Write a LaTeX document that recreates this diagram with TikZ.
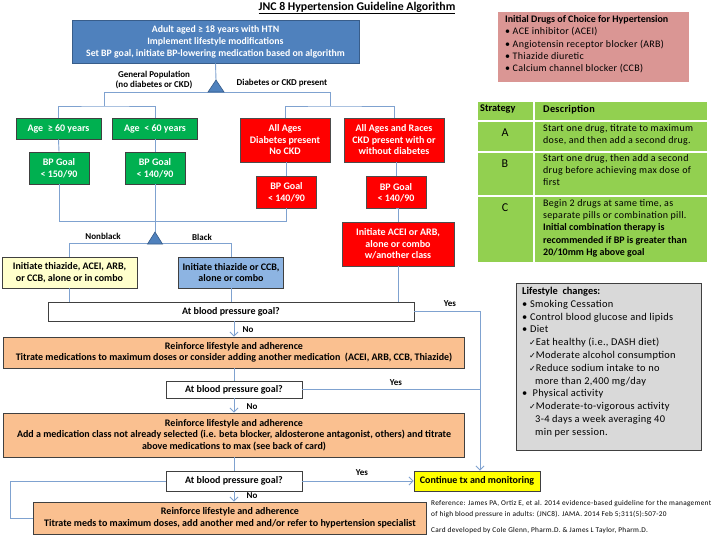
\documentclass[tikz,border=0pt]{standalone}
\usepackage{fontspec}
\setmainfont{Carlito}
\newfontfamily\djv{DejaVu Sans}
\newfontfamily\spc[LetterSpace=3]{Carlito}
\newfontfamily\spcb[LetterSpace=3]{Carlito}
\newfontfamily\spcc[LetterSpace=4]{Carlito}
\usetikzlibrary{arrows.meta}
\definecolor{topblue}{HTML}{4F81BD}
\definecolor{topborder}{HTML}{385D8A}
\definecolor{ggreen}{HTML}{00B050}
\definecolor{rred}{HTML}{FF0000}
\definecolor{lyellow}{HTML}{FFFFCC}
\definecolor{lblue}{HTML}{8DB4E2}
\definecolor{peach}{HTML}{FAC090}
\definecolor{yyellow}{HTML}{FFFF00}
\definecolor{pinkbox}{HTML}{DA9694}
\definecolor{tgreen}{HTML}{92D050}
\definecolor{lgray}{HTML}{D9D9D9}
\definecolor{conncol}{HTML}{7FA2D0}
\newcommand\chk{{\djv\fontsize{8}{8}\selectfont ✓}}
\begin{document}
\begin{tikzpicture}[x=1pt,y=-1pt,
  sz/.style 2 args={minimum width=#1,minimum height=#2},
  box/.style={draw=black!75,line width=0.8pt,inner sep=1pt,align=center,
    font=\fontsize{10}{11.5}\selectfont\bfseries},
  topbox/.style={box,fill=topblue,draw=topborder,text=white,font=\fontsize{9.8}{12}\selectfont\bfseries},
  gbox/.style={box,fill=ggreen,text=white},
  rbox/.style={box,fill=rred,text=white,draw=black!70},
  ybox/.style={box,fill=lyellow},
  bbox/.style={box,fill=lblue},
  wbox/.style={box,fill=white},
  obox/.style={box,fill=peach},
  cbox/.style={box,fill=yyellow},
  conn/.style={draw=conncol,line width=0.9pt},
  arr/.style={conn,-{Straight Barb[length=4pt,width=8pt]}},
  lbl/.style={font=\fontsize{9}{10.5}\selectfont\bfseries,align=center,inner sep=0pt},
  tri/.style={fill=topblue,draw=topborder,line width=0.6pt},
  cell/.style={fill=tgreen},
  rtxt/.style={font=\spc\fontsize{10}{12.3}\selectfont,align=left,inner sep=0pt,anchor=north west}
]
\useasboundingbox (0,0) rectangle (720,540);
\fill[white] (0,0) rectangle (720,540);

% title
\node[font=\fontsize{11.8}{13}\selectfont\bfseries] (title) at (357,8) {\underline{JNC 8 Hypertension Guideline Algorithm}};

% top box
\node[topbox,sz={287}{43}] (top) at (215.5,41.5) {Adult aged ≥ 18 years with HTN\\Implement lifestyle modifications\\Set BP goal, initiate BP-lowering medication based on algorithm};

% triangle 1
\coordinate (t1) at (216,80);
\coordinate (gL) at (104,92);
\coordinate (gR) at (330,92);
\coordinate (jL) at (104,106);
\coordinate (jR) at (330,106);
\draw[conn] (top.south) -- (t1);
\draw[conn] (jL) -- (gL) -- (gR) -- (jR);
\filldraw[tri] (208,92) -- (224,92) -- (t1) -- cycle;
\node[lbl] (genpop) at (154,80) {General Population\\(no diabetes or CKD)};
\node[lbl] (diab) at (282,83) {Diabetes or CKD present};

% green branch
\node[gbox,sz={85}{21}] (age1) at (58.5,128.5) {Age\ \ ≥ 60 years};
\node[gbox,sz={85}{21}] (age2) at (155,128.5) {Age\ \ < 60 years};
\node[gbox,sz={60}{32}] (bp1) at (59,168) {BP Goal\\< 150/90};
\node[gbox,sz={60}{32}] (bp2) at (155,168) {BP Goal\\< 140/90};

% red branch
\node[rbox,sz={90}{44}] (red1) at (285,140) {All Ages\\Diabetes present\\No CKD};
\node[rbox,sz={100}{44}] (red2) at (394,140) {All Ages and Races\\CKD present with or\\without diabetes};
\node[rbox,sz={60}{32}] (rbp1) at (286.5,192) {BP Goal\\< 140/90};
\node[rbox,sz={60}{32}] (rbp2) at (396,192.5) {BP Goal\\< 140/90};
\node[rbox,sz={112}{44}] (rinit) at (398,244) {Initiate ACEI or ARB,\\alone or combo\\w/another class};

\draw[conn] (age1.north) |- (jL) -| (age2.north);
\draw[conn] (red1.north) |- (jR) -| (red2.north);
\draw[conn] (age1.south) -- (bp1.north);
\draw[conn] (age2.south) -- (bp2.north);
\draw[conn] (red1.south -| rbp1.north) -- (rbp1.north);
\draw[conn] (red2.south -| rbp2.north) -- (rbp2.north);
\draw[conn] (rbp2.south) -- (rbp2.south -| rinit.north) -- (rinit.north);

% second junction
\coordinate (hL) at (59,221);
\coordinate (hR) at (286.5,221);
\coordinate (t2) at (155,232);
\coordinate (t2b) at (155,243.5);
\draw[conn] (bp1.south) -- (hL) -- (hR) -- (rbp1.south);
\draw[conn] (bp2.south) -- (t2);

\node[ybox,sz={135}{31}] (yel) at (69.5,272.5) {Initiate thiazide, ACEI, ARB,\\or CCB, alone or in combo};
\node[bbox,sz={105}{31}] (blu) at (231,272.5) {Initiate thiazide or CCB,\\alone or combo};
\draw[conn] (yel.north) |- (t2b) -| (blu.north);
\filldraw[tri] (147.5,244) -- (162.5,244) -- (t2) -- cycle;
\node[lbl] (nonblack) at (103,236) {Nonblack};
\node[lbl] (black) at (202,237) {Black};

% goal chain
\node[wbox,sz={366}{19}] (goal1) at (231,311.5) {At blood pressure goal?};
\draw[conn] (yel.south) -- (yel.south |- goal1.north);
\draw[conn] (blu.south) -- (blu.south |- goal1.north);
\draw[conn] (rinit.south) -- (rinit.south |- goal1.north);

\node[obox,sz={461}{31}] (or1) at (234,352.5) {Reinforce lifestyle and adherence\\Titrate medications to maximum doses or consider adding another medication\ \ (ACEI, ARB, CCB, Thiazide)};
\node[wbox,sz={136}{17}] (goal2) at (234,389.5) {At blood pressure goal?};
\node[obox,sz={461}{44}] (or2) at (234,435) {Reinforce lifestyle and adherence\\Add a medication class not already selected (i.e. beta blocker, aldosterone antagonist, others) and titrate\\above medications to max (see back of card)};
\node[wbox,sz={136}{20}] (goal3) at (234,481) {At blood pressure goal?};
\node[obox,sz={393}{32}] (or3) at (230,518) {Reinforce lifestyle and adherence\\Titrate meds to maximum doses, add another med and/or refer to hypertension specialist};
\node[cbox,sz={126}{20}] (cont) at (477,481) {Continue tx and monitoring};

\draw[arr] (goal1.south -| or1.north) -- (or1.north);
\draw[conn] (or1.south) -- (goal2.north);
\draw[arr] (goal2.south) -- (or2.north);
\draw[conn] (or2.south) -- (goal3.north);
\draw[arr] (goal3.south) -- (goal3.south |- or3.north);
\node[lbl] (no1) at (248,330) {No};
\node[lbl] (no2) at (252,407) {No};
\node[lbl] (no3) at (252,496) {No};

\coordinate (yr) at (480,311.5);
\draw[arr] (goal1.east) -- (yr) -- (yr |- cont.north);
\draw[conn] (goal2.east) -- (goal2.east -| yr);
\draw[arr] (goal3.east) -- (cont.west);
\node[lbl] (yes1) at (450,304) {Yes};
\node[lbl] (yes2) at (396,383) {Yes};
\node[lbl] (yes3) at (362,473) {Yes};

\coordinate (lp) at (10,0);
\draw[conn] (goal3.west) -- (goal3.west -| lp) |- (or3.west);

% pink box
\node[fill=pinkbox,sz={191}{70},anchor=north west,inner sep=0pt] (pink) at (498,12) {};
\node[rtxt,font=\spc\fontsize{10}{12.4}\selectfont] (pinktxt) at (505,15) {{\normalfont\bfseries Initial Drugs of Choice for Hypertension}\\
\textbullet\ ACE inhibitor (ACEI)\\
\textbullet\ Angiotensin receptor blocker (ARB)\\
\textbullet\ Thiazide diuretic\\
\textbullet\ Calcium channel blocker (CCB)};

% strategy table
\fill[cell] (478,102) rectangle (533,120);
\fill[cell] (535,102) rectangle (707,120);
\fill[cell] (478,122) rectangle (533,151);
\fill[cell] (535,122) rectangle (707,151);
\fill[cell] (478,153) rectangle (533,195);
\fill[cell] (535,153) rectangle (707,195);
\fill[cell] (478,197) rectangle (533,262);
\fill[cell] (535,197) rectangle (707,262);
\node[rtxt,font=\fontsize{10.3}{11}\selectfont\bfseries] (hs) at (480,105) {Strategy};
\node[rtxt,font=\spc\fontsize{10.3}{11}\selectfont\bfseries] (hd) at (543,105) {Description};
\node[font=\fontsize{12}{13}\selectfont,anchor=north] (sA) at (505,125) {A};
\node[font=\fontsize{12}{13}\selectfont,anchor=north] (sB) at (505,156) {B};
\node[font=\fontsize{12}{13}\selectfont,anchor=north] (sC) at (505,200) {C};
\node[rtxt] (dA) at (543,124) {Start one drug, titrate to maximum\\dose, and then add a second drug.};
\node[rtxt] (dB) at (543,154) {Start one drug, then add a second\\drug before achieving max dose of\\first};
\node[rtxt] (dC) at (543,199) {Begin 2 drugs at same time, as\\separate pills or combination pill.\\{\normalfont\bfseries Initial combination therapy is}\\{\normalfont\bfseries recommended if BP is greater than}\\{\normalfont\bfseries 20/10mm Hg above goal}};

% lifestyle box
\node[draw=black!75,line width=0.8pt,fill=lgray,sz={185}{167},anchor=north west] (life) at (516,283) {};
\node[rtxt,font=\spcb\fontsize{10.4}{12.8}\selectfont] (lifetxt) at (522,287) {{\normalfont\bfseries Lifestyle\ \ changes:}\\
\textbullet\ Smoking Cessation\\
\textbullet\ Control blood glucose and lipids\\
\textbullet\ Diet\\
\hspace*{7pt}\chk Eat healthy (i.e., DASH diet)\\
\hspace*{7pt}\chk Moderate alcohol consumption\\
\hspace*{7pt}\chk Reduce sodium intake to no\\
\hspace*{13pt}more than 2,400 mg/day\\
\textbullet\ \ Physical activity\\
\hspace*{7pt}\chk Moderate-to-vigorous activity\\
\hspace*{13pt}3-4 days a week averaging 40\\
\hspace*{13pt}min per session.};

% references
\node[rtxt,font=\spcc\fontsize{7.3}{11.5}\selectfont] (ref) at (431,500) {Reference: James PA, Ortiz E, et al. 2014 evidence-based guideline for the management\\of high blood pressure in adults: (JNC8). JAMA. 2014 Feb 5;311(5):507-20};
\node[rtxt,font=\spcc\fontsize{7.3}{8}\selectfont] (card) at (431,527) {Card developed by Cole Glenn, Pharm.D. \& James L Taylor, Pharm.D.};
\end{tikzpicture}
\end{document}
